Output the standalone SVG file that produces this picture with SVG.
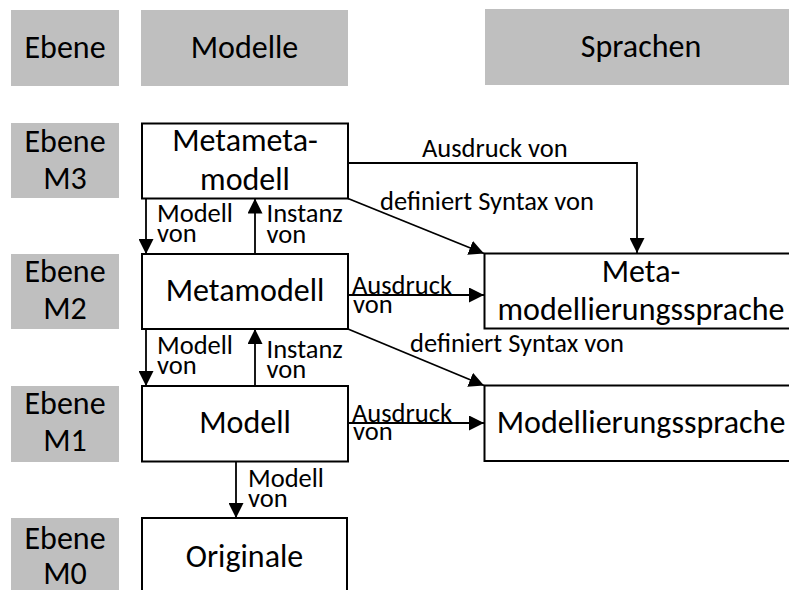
<svg xmlns="http://www.w3.org/2000/svg" width="789" height="590" viewBox="0 0 789 590">
  <style>
    text { font-family: Carlito, Lato, "Open Sans", sans-serif; fill: #000; }
    .head { fill: #bfbfbf; stroke: none; }
    .box { fill: #fff; stroke: #000; stroke-width: 2; }
    .big { font-size: 32px; }
    .mid { text-anchor: middle; }
    .lbl { font-size: 26.5px; }
    .edge { fill: none; stroke: #000; stroke-width: 1.8; }
  </style>
  <defs>
    <marker id="arrow" markerUnits="userSpaceOnUse" markerWidth="15" markerHeight="15" refX="15" refY="7.5" orient="auto">
      <path d="M0,0 L15,7.5 L0,15 z" fill="#000"/>
    </marker>
  </defs>

  <!-- column headings -->
  <g id="head-ebene">
    <rect class="head" x="11" y="10" width="108" height="76"/>
    <text class="big mid" x="65" y="58">Ebene</text>
  </g>
  <g id="head-modelle">
    <rect class="head" x="141" y="10" width="207" height="76"/>
    <text class="big mid" x="244.5" y="58">Modelle</text>
  </g>
  <g id="head-sprachen">
    <rect class="head" x="485" y="9" width="310" height="76"/>
    <text class="big mid" x="641" y="57">Sprachen</text>
  </g>

  <!-- level labels -->
  <g id="level-m3">
    <rect class="head" x="11" y="123" width="108" height="75"/>
    <text class="big mid" x="65" y="151.5">Ebene</text>
    <text class="big mid" x="65" y="188.5">M3</text>
  </g>
  <g id="level-m2">
    <rect class="head" x="11" y="254" width="108" height="75"/>
    <text class="big mid" x="65" y="282">Ebene</text>
    <text class="big mid" x="65" y="318.5">M2</text>
  </g>
  <g id="level-m1">
    <rect class="head" x="11" y="386" width="108" height="76"/>
    <text class="big mid" x="65" y="414">Ebene</text>
    <text class="big mid" x="65" y="450.5">M1</text>
  </g>
  <g id="level-m0">
    <rect class="head" x="11" y="518" width="108" height="80"/>
    <text class="big mid" x="65" y="548.5">Ebene</text>
    <text class="big mid" x="65" y="584">M0</text>
  </g>

  <!-- model nodes -->
  <g id="metametamodell">
    <rect class="box" x="142" y="123.5" width="206" height="75"/>
    <text class="big mid" x="245" y="150.5">Metameta-</text>
    <text class="big mid" x="245" y="190">modell</text>
  </g>
  <g id="metamodell">
    <rect class="box" x="142" y="254" width="206" height="75"/>
    <text class="big mid" x="245" y="301">Metamodell</text>
  </g>
  <g id="modell">
    <rect class="box" x="142" y="386" width="206" height="75.5"/>
    <text class="big mid" x="245" y="433">Modell</text>
  </g>
  <g id="originale">
    <rect class="box" x="142" y="518" width="205" height="80"/>
    <text class="big mid" x="244.5" y="566.5">Originale</text>
  </g>

  <!-- language nodes -->
  <g id="metamodellierungssprache">
    <rect class="box" x="484.5" y="253.5" width="312" height="75"/>
    <text class="big mid" x="641" y="281.5">Meta-</text>
    <text class="big mid" x="641" y="320">modellierungssprache</text>
  </g>
  <g id="modellierungssprache">
    <rect class="box" x="484.5" y="385.5" width="312" height="75.5"/>
    <text class="big mid" x="641" y="432.5">Modellierungssprache</text>
  </g>

  <!-- connectors -->
  <g id="connectors">
    <!-- Metametamodell -> Metamodellierungssprache -->
    <polyline class="edge" points="348,163 637,163 637,253" marker-end="url(#arrow)"/>
    <line class="edge" x1="348" y1="198.5" x2="484" y2="253.5" marker-end="url(#arrow)"/>
    <!-- M3 <-> M2 -->
    <line class="edge" x1="146" y1="198.5" x2="146" y2="254" marker-end="url(#arrow)"/>
    <line class="edge" x1="255" y1="254" x2="255" y2="198.5" marker-end="url(#arrow)"/>
    <!-- Metamodell -> languages -->
    <line class="edge" x1="348" y1="295" x2="484" y2="295" marker-end="url(#arrow)"/>
    <line class="edge" x1="348" y1="329" x2="484" y2="385.5" marker-end="url(#arrow)"/>
    <!-- M2 <-> M1 -->
    <line class="edge" x1="146" y1="329" x2="146" y2="386" marker-end="url(#arrow)"/>
    <line class="edge" x1="255" y1="386" x2="255" y2="329" marker-end="url(#arrow)"/>
    <!-- Modell -> Modellierungssprache -->
    <line class="edge" x1="348" y1="423" x2="484" y2="423" marker-end="url(#arrow)"/>
    <!-- Modell -> Originale -->
    <line class="edge" x1="236" y1="461.5" x2="236" y2="518" marker-end="url(#arrow)"/>

    <!-- connector labels -->
    <text class="lbl" x="422" y="157">Ausdruck von</text>
    <text class="lbl" x="380" y="210">definiert Syntax von</text>
    <text class="lbl" x="157" y="221.5">Modell</text>
    <text class="lbl" x="157" y="241.5">von</text>
    <text class="lbl" x="266.5" y="221.5">Instanz</text>
    <text class="lbl" x="266.5" y="243">von</text>
    <text class="lbl" x="352" y="293.5">Ausdruck</text>
    <text class="lbl" x="353" y="313">von</text>
    <text class="lbl" x="410" y="351.5">definiert Syntax von</text>
    <text class="lbl" x="157" y="353.5">Modell</text>
    <text class="lbl" x="157" y="374">von</text>
    <text class="lbl" x="266.5" y="357.5">Instanz</text>
    <text class="lbl" x="266.5" y="378">von</text>
    <text class="lbl" x="352" y="421.5">Ausdruck</text>
    <text class="lbl" x="353" y="440">von</text>
    <text class="lbl" x="248" y="486.5">Modell</text>
    <text class="lbl" x="248" y="506.5">von</text>
  </g>
</svg>
